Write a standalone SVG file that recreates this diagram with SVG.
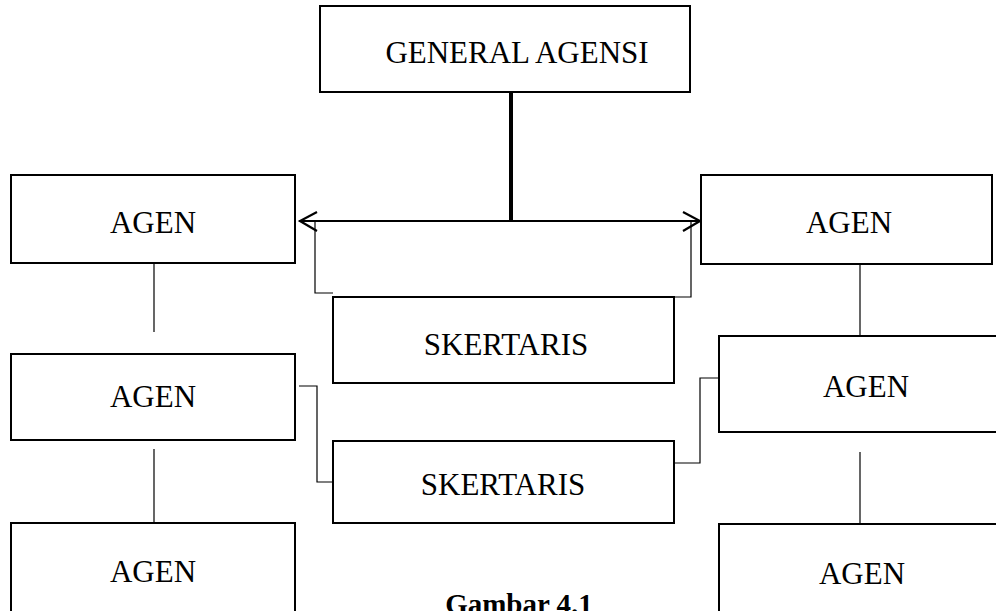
<svg xmlns="http://www.w3.org/2000/svg" width="996" height="611" viewBox="0 0 996 611">
<style>
.box{fill:#fff;stroke:#000;stroke-width:2}
.t{font-family:"Liberation Serif","Times New Roman",serif;font-size:31px;fill:#000;text-anchor:middle}
.c{fill:none;stroke:#000;stroke-width:1.2}
.cap{font-family:"Liberation Serif","Times New Roman",serif;font-size:29px;font-weight:bold;fill:#000;text-anchor:middle}
</style>
<rect width="996" height="611" fill="#fff"/>
<g id="connectors">
<line x1="511" y1="92" x2="511" y2="221" stroke="#000" stroke-width="4"/>
<line x1="299" y1="221" x2="705" y2="221" stroke="#000" stroke-width="2.2"/>
<polyline points="317,212 300,221 317,231" fill="none" stroke="#000" stroke-width="2.2"/>
<polyline points="683,212 700,221 683,231" fill="none" stroke="#000" stroke-width="2.2"/>
<polyline class="c" points="315,221 315,293 333,293"/>
<polyline class="c" points="691,221 691,297 674,297"/>
<polyline class="c" points="299,386 317,386 317,482 334,482"/>
<polyline class="c" points="674,463 700,463 700,378 719,378"/>
<line class="c" x1="154" y1="263" x2="154" y2="332"/>
<line class="c" x1="154" y1="449" x2="154" y2="523"/>
<line class="c" x1="860" y1="264" x2="860" y2="340"/>
<line class="c" x1="860" y1="452" x2="860" y2="527"/>
</g>
<g id="general-agensi"><rect class="box" x="320" y="6" width="370" height="86"/><text class="t" x="517" y="63">GENERAL AGENSI</text></g>
<g id="agen-l1"><rect class="box" x="11" y="175" width="284" height="88"/><text class="t" x="153" y="233">AGEN</text></g>
<g id="agen-r1"><rect class="box" x="701" y="175" width="291" height="89"/><text class="t" x="849" y="233">AGEN</text></g>
<g id="skertaris-1"><rect class="box" x="333" y="297" width="341" height="86"/><text class="t" x="506" y="355">SKERTARIS</text></g>
<g id="agen-l2"><rect class="box" x="11" y="354" width="284" height="86"/><text class="t" x="153" y="407">AGEN</text></g>
<g id="agen-r2"><rect class="box" x="719" y="336" width="300" height="96"/><text class="t" x="866" y="397">AGEN</text></g>
<g id="skertaris-2"><rect class="box" x="333" y="441" width="341" height="82"/><text class="t" x="503" y="495">SKERTARIS</text></g>
<g id="agen-l3"><rect class="box" x="11" y="523" width="284" height="100"/><text class="t" x="153" y="582">AGEN</text></g>
<g id="agen-r3"><rect class="box" x="719" y="524" width="300" height="100"/><text class="t" x="862" y="584">AGEN</text></g>
<text class="cap" x="519" y="614">Gambar 4.1</text>
</svg>
